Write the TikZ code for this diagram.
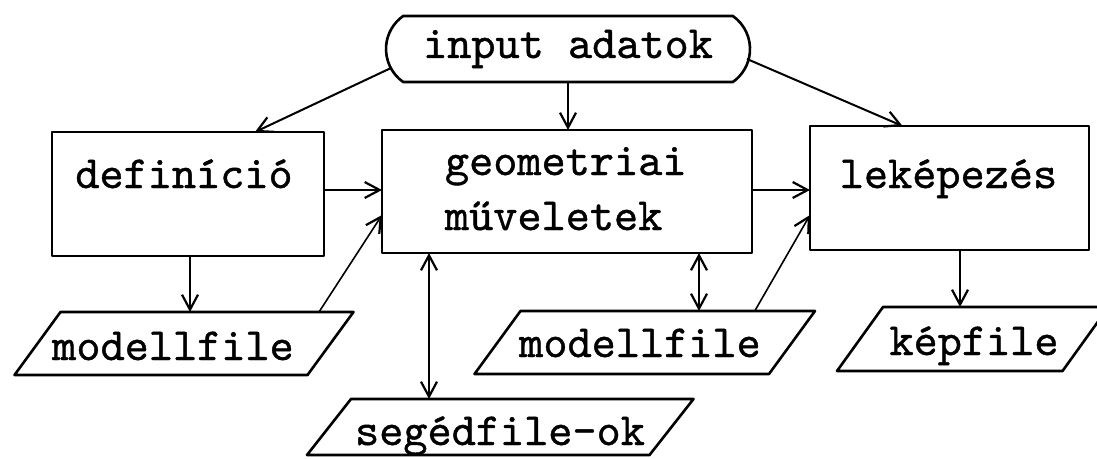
\documentclass[tikz,border=0pt]{standalone}
\usepackage{fontspec}
\newfontfamily\twfont{lmmono10-regular.otf}[FakeBold=0.9]
\usetikzlibrary{arrows.meta,shapes.misc}
\newcommand\pgram[2]{\draw[pline] ([xshift=#2]#1.north west) -- ([xshift=#2]#1.north east) -- ([xshift=-#2]#1.south east) -- ([xshift=-#2]#1.south west) -- cycle;}
\begin{document}
\begin{tikzpicture}[x=1pt,y=-1pt,
  every node/.style={inner sep=0pt, outer sep=0pt},
  rectbox/.style={draw, line width=2.8pt, line join=round},
  pg/.style={rectangle},
  lbl/.style={font=\fontsize{46}{55}\selectfont\twfont, anchor=base},
  pline/.style={line width=2.6pt, line join=round},
  arr/.style={line width=2pt, -{Straight Barb[length=15pt,width=16pt,line width=2.2pt]}},
  darr/.style={line width=2pt, {Straight Barb[length=15pt,width=16pt,line width=2.2pt]}-{Straight Barb[length=15pt,width=16pt,line width=2.2pt]}}]
\useasboundingbox (0,0) rectangle (1097,458);
\fill[white] (0,0) rectangle (1097,458);

% boxes
\node[rounded rectangle, rounded rectangle arc length=110, draw, line width=2.6pt,
      minimum width=364pt, minimum height=66pt,
      font=\fontsize{46}{55}\selectfont\twfont] (input) at (568,49) {input adatok};
\node[rectbox, minimum width=272pt, minimum height=124pt] (def) at (188,194) {};
\node[rectbox, minimum width=370pt, minimum height=123pt] (geo) at (567,191.5) {};
\node[rectbox, minimum width=279pt, minimum height=124pt] (lek) at (949.5,188) {};

% parallelograms
\node[pg, minimum width=293pt, minimum height=63pt] (mf1) at (184,343.5) {};
\node[pg, minimum width=294.5pt, minimum height=63pt] (mf2) at (644.75,342.5) {};
\node[pg, minimum width=225.5pt, minimum height=64pt] (kep) at (972.75,339) {};
\node[pg, minimum width=342.5pt, minimum height=56pt] (seg) at (500.25,427) {};
\pgram{mf1}{23pt}
\pgram{mf2}{23pt}
\pgram{kep}{23pt}
\pgram{seg}{22pt}

% texts
\node[lbl] (deftxt) at (184,188) {definíció};
\node[lbl, anchor=base west] (geotxt1) at (445,175) {geometriai};
\node[lbl, anchor=base west] (geotxt2) at (445,230) {műveletek};
\node[lbl] (lektxt) at (948.5,188) {leképezés};
\node[lbl] (mf1txt) at (173,360) {modellfile};
\node[lbl] (mf2txt) at (640,357) {modellfile};
\node[lbl] (keptxt) at (974,355) {képfile};
\node[lbl] (segtxt) at (500,445) {segédfile-ok};

% helper coordinates
\coordinate (rowA) at (0,190);
\coordinate (rowB) at (0,215);
\coordinate (colA) at (190,0);
\coordinate (colB) at (429,0);
\coordinate (colC) at (699,0);
\coordinate (colD) at (960,0);

% connectors
\draw[arr] ([xshift=5pt,yshift=-19pt]input.west) -- ([xshift=67pt]def.north);
\draw[arr] (input.south) -- (input.south |- geo.north);
\draw[arr] ([xshift=-3pt,yshift=-10pt]input.east) -- ([xshift=-47pt]lek.north);
\draw[arr] (def.east |- rowA) -- (geo.west |- rowA);
\draw[arr] (geo.east |- rowA) -- (lek.west |- rowA);
\draw[arr, line width=1.6pt] ([xshift=135pt]mf1.north) -- (geo.west |- rowB);
\draw[arr, line width=1.6pt] ([xshift=110pt]mf2.north) -- (lek.west |- rowB);
\draw[arr, line width=1.6pt] (colA |- def.south) -- (colA |- mf1.north);
\draw[darr] (colB |- geo.south) -- (colB |- seg.north);
\draw[darr] (colC |- geo.south) -- (colC |- mf2.north);
\draw[arr] (colD |- lek.south) -- (colD |- kep.north);
\end{tikzpicture}
\end{document}
